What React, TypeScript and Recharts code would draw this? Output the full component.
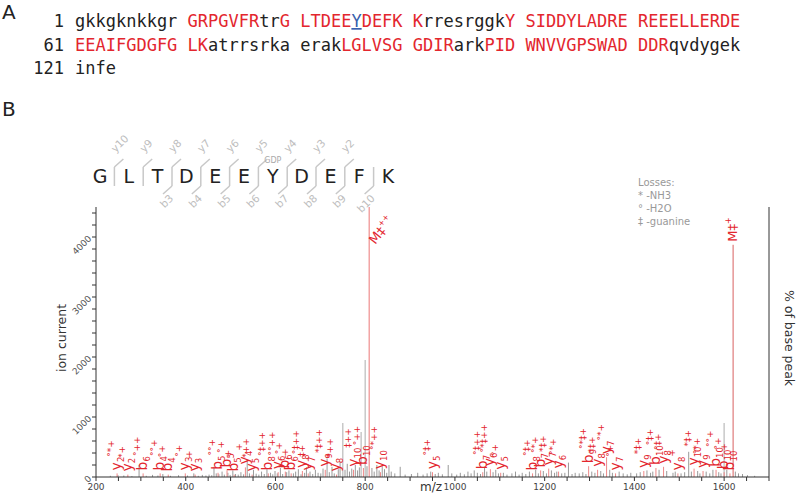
import React from "react";
import { ComposedChart, XAxis, YAxis, Scatter, ReferenceLine } from "recharts";

const FONT = "'DejaVu Sans', sans-serif";
const MONO = "'DejaVu Sans Mono', monospace";
const RED = "#e3262e";

// panel A: protein sequence, k = plain, r = covered, u = modified site
const seqStarts = ["1", "61", "121"];
const seqRow1 = [
  ["gkkgknkkgr ", "k"], ["GRPGVFR", "r"], ["tr", "k"], ["G LTDEE", "r"], ["Y", "u"],
  ["DEFK K", "r"], ["rresrggk", "k"], ["Y SIDDYLADRE REEELLERDE", "r"],
];
const seqRow2 = [
  ["EEAIFGDGFG LK", "r"], ["atrrsrka erak", "k"], ["LGLVSG GDIR", "r"], ["ark", "k"],
  ["PID WNVVGPSWAD DDR", "r"], ["qvdygek", "k"],
];
const seqRow3 = [["infe", "k"]];
const seqRows = [seqRow1, seqRow2, seqRow3];

// panel B: peptide
const residues = ["G", "L", "T", "D", "E", "E", "Y", "D", "E", "F", "K"];
const lossLegend = ["Losses:", "* -NH3", "° -H2O", "‡ -guanine"];

// unassigned peaks (m/z, ion current)
const peakMz = [
  232, 249, 262, 280, 296, 312, 326, 338, 349, 366, 384, 404, 418, 428, 437, 445, 452, 458,
  463, 468, 474, 481, 486, 494, 499, 505, 511, 517, 523, 529, 537, 542, 551, 557, 563, 569, 575, 581, 589, 594, 599,
  604, 611, 616, 625, 630, 640, 645, 651, 657, 665, 669, 677, 683, 689, 695,
  701, 706, 715, 720, 726, 731, 740, 744, 750, 755, 760, 765, 770, 778, 783, 787, 791, 800, 804, 815, 820, 826, 831, 838, 843, 848, 853, 858, 866,
  878, 889, 903, 917, 929, 938, 946, 956, 963, 972, 985, 993,
  1004, 1012, 1021, 1029, 1036, 1043, 1050, 1057, 1066, 1071, 1085, 1091, 1097, 1108, 1116, 1127, 1135, 1143, 1150, 1158, 1166, 1180, 1186, 1197,
  1204, 1215, 1222, 1227, 1238, 1245, 1253, 1261, 1268, 1277, 1285, 1292, 1305, 1312, 1325, 1331, 1345, 1351, 1366, 1375, 1384, 1392,
  1405, 1413, 1428, 1436, 1441, 1455, 1472, 1486, 1491, 1504, 1512, 1521, 1527, 1541, 1546, 1560, 1568, 1575, 1588, 1593, 1600, 1606, 1625, 1632, 1641, 1652, 1668,
];
const peakIntensity = [
  20, 30, 25, 15, 200, 20, 35, 25, 50, 20, 30, 25, 60, 20, 35, 25, 40, 30,
  170, 60, 45, 90, 40, 70, 35, 110, 50, 40, 80, 45, 280, 60, 120, 55, 40, 90, 50, 130, 70, 45, 100,
  60, 150, 50, 80, 110, 60, 90, 130, 45, 70, 160, 90, 50, 120, 70,
  60, 140, 310, 80, 170, 60, 130, 250, 900, 120, 220, 90, 140, 200, 110, 160, 750, 1950, 180, 150, 90, 200, 110, 180, 130, 70, 200, 90, 60,
  170, 40, 50, 70, 40, 60, 90, 50, 70, 45, 200, 60,
  40, 70, 45, 90, 60, 110, 70, 50, 150, 90, 80, 120, 60, 70, 40, 60, 90, 40, 70, 50, 90, 120, 60, 100,
  60, 110, 70, 90, 60, 70, 240, 50, 70, 60, 80, 50, 90, 70, 100, 60, 120, 70, 90, 60, 45, 70,
  60, 80, 110, 70, 90, 120, 100, 70, 90, 60, 80, 420, 90, 100, 60, 90, 60, 120, 80, 60, 900, 120, 90, 60, 50, 30, 20,
];

// assigned fragment ions
const ionMz = [
  247, 271, 305, 343, 361, 399, 421, 472, 492, 508, 533, 548, 584, 606, 622, 635, 660, 673, 711, 736,
  774, 796, 834, 950, 1062, 1079, 1102, 1173, 1191, 1209, 1231, 1298, 1318, 1338, 1358, 1421, 1448,
  1465, 1497, 1533, 1553, 1582, 1600, 1613,
];
const ionIntensity = [
  60, 40, 60, 60, 40, 60, 40, 70, 110, 40, 160, 40, 60, 80, 90, 60, 100, 60, 120, 40,
  120, 150, 80, 80, 80, 130, 70, 60, 110, 140, 90, 180, 120, 330, 60, 100, 150,
  170, 60, 140, 100, 120, 80, 60,
];
const ionType = [
  "y", "y", "b", "b", "b", "y", "y", "b", "b", "b", "y", "y", "b", "y", "b", "b", "y", "y", "y", "y",
  "y", "b", "y", "y", "b", "y", "y", "b", "b", "y", "y", "b", "y", "y", "y", "y", "b",
  "y", "y", "y", "y", "b", "b", "b",
];
const ionNumber = [
  "2", "2", "6", "4", "4", "3", "3", "5", "5", "5", "4", "5", "8", "6", "6", "6", "8", "7", "9", "8",
  "10", "10", "10", "5", "7", "6", "5", "8", "7", "7", "6", "9", "8", "7", "7", "9", "10",
  "8", "8", "10", "9", "10", "10", "10",
];
const ionLoss = [
  "°*+", "*+", "°++", "°°+", "°+", "°+", "+", "°°+", "°+", "+", "+", "*++", "°‡++", "°°++", "°+", "+", "°‡++", "‡+", "*‡++", "*++",
  "‡++", "°++", "°*++", "°‡+", "°‡++", "°*‡++", "°+", "°‡+", "°*+", "*‡+", "°*+", "°*‡+", "*‡+", "°*+", "°+", "*‡+", "°‡+",
  "°‡+", "+", "*‡+", "°*+", "°°+", "°+", "+",
];

// precursor (guanine loss)
const precursorMz = [809, 1620];
const precursorIntensity = [4500, 3870];
const precursorCharge = [2, 1];

const xTicks = [200, 250, 300, 350, 400, 450, 500, 550, 600, 650, 700, 750, 800, 850, 900, 950, 1000, 1050,
  1100, 1150, 1200, 1250, 1300, 1350, 1400, 1450, 1500, 1550, 1600, 1650, 1700];
const leftTicks = [0, 200, 400, 600, 800, 1000, 1200, 1400, 1600, 1800, 2000, 2200, 2400, 2600, 2800, 3000,
  3200, 3400, 3600, 3800, 4000, 4200, 4400];
const rightTicks = [0, 5, 10, 15, 20, 25, 30, 35, 40, 45, 50, 55, 60, 65, 70, 75, 80, 85, 90, 95, 100];

const ionData = ionMz.map((mz, i) => ({
  mz, intensity: ionIntensity[i], type: ionType[i], num: ionNumber[i], loss: ionLoss[i],
}));
const precursorData = precursorMz.map((mz, i) => ({
  mz, intensity: precursorIntensity[i], charge: precursorCharge[i],
}));

const XTick = (props: any) => {
  const { x, y, payload } = props;
  if (payload.value % 200 !== 0 || payload.value > 1600) return null;
  return (
    <text x={x} y={y} dy={7} textAnchor="middle" fontSize={9} fill="#444" fontFamily={FONT}>
      {payload.value}
    </text>
  );
};

const LeftTick = (props: any) => {
  const { x, y, payload } = props;
  if (payload.value % 1000 !== 0) return null;
  return (
    <text x={x} y={y} dy={3} transform={`rotate(-45 ${x} ${y})`} textAnchor="end" fontSize={9} fill="#555" fontFamily={FONT}>
      {payload.value}
    </text>
  );
};

const RightTick = (props: any) => {
  const { x, y, payload } = props;
  if (payload.value % 20 !== 0) return null;
  return (
    <text x={x} y={y} dy={3} transform={`rotate(45 ${x} ${y})`} textAnchor="start" fontSize={9} fill="#555" fontFamily={FONT}>
      {payload.value}
    </text>
  );
};

const IonLabel = (props: any) => {
  const { cx, cy, payload } = props;
  if (cx == null) return null;
  return (
    <text transform={`translate(${cx + 4},${cy - 3}) rotate(-90)`} fill={RED} fontFamily={FONT}>
      <tspan fontSize={14}>{payload.type}</tspan>
      <tspan fontSize={8.5} dy={3}>{payload.num}</tspan>
      <tspan fontSize={9} dy={-10}>{payload.loss}</tspan>
    </text>
  );
};

const PrecursorLabel = (props: any) => {
  const { cx, cy, payload } = props;
  if (cx == null) return null;
  const t = payload.charge === 2
    ? `translate(${cx + 6},${cy + 38}) rotate(-52)`
    : `translate(${cx + 4},${cy - 3}) rotate(-90)`;
  return (
    <text transform={t} fill={RED} fontFamily={FONT}>
      <tspan fontSize={13}>M‡</tspan>
      <tspan fontSize={8} dy={-6}>{"+".repeat(payload.charge)}</tspan>
    </text>
  );
};

const seqColor = (k: string) => (k === "r" ? RED : k === "u" ? "#3a5fae" : "#222");

function Overlay() {
  const rx = residues.map((_, i) => 100 + i * 28.8);
  return (
    <svg width={800} height={494} style={{ position: "absolute", left: 0, top: 0, pointerEvents: "none" }}>
      <text x={2} y={19} fontSize={20} fontFamily={FONT} fill="#222">A</text>
      {seqRows.map((row, r) => (
        <g key={r}>
          <text x={64} y={27 + r * 23.5} textAnchor="end" fontSize={17} fontFamily={MONO} fill="#222">
            {seqStarts[r]}
          </text>
          <text x={75} y={27 + r * 23.5} fontSize={17} fontFamily={MONO} style={{ whiteSpace: "pre" }}>
            {row.map(([s, k], j) => (
              <tspan key={j} fill={seqColor(k)} textDecoration={k === "u" ? "underline" : undefined}>
                {s}
              </tspan>
            ))}
          </text>
        </g>
      ))}
      <text x={2} y={116} fontSize={20} fontFamily={FONT} fill="#222">B</text>

      {residues.map((c, i) => (
        <text key={c + i} x={rx[i]} y={183} textAnchor="middle" fontSize={19} fontFamily={FONT} fill="#222">
          {c}
        </text>
      ))}
      {residues.slice(0, -1).map((_, i) => {
        const sx = (rx[i] + rx[i + 1]) / 2;
        const yNum = 10 - i;
        const bNum = i + 1;
        return (
          <g key={"sep" + i} stroke="#c8c8c8" strokeWidth={1.5} fill="none">
            <line x1={sx} y1={167} x2={sx} y2={186} />
            {yNum >= 2 && <line x1={sx} y1={167} x2={sx + 9} y2={159} />}
            {bNum >= 3 && <line x1={sx} y1={186} x2={sx - 9} y2={194} />}
            {yNum >= 2 && (
              <text x={sx + 1} y={153} transform={`rotate(-45 ${sx + 1} 153)`} fontSize={10.5} fontFamily={FONT} fill="#bdbdbd" stroke="none">
                {"y" + yNum}
              </text>
            )}
            {bNum >= 3 && (
              <text x={sx + 2} y={199} transform={`rotate(-45 ${sx + 2} 199)`} textAnchor="end" fontSize={10.5} fontFamily={FONT} fill="#bdbdbd" stroke="none">
                {"b" + bNum}
              </text>
            )}
          </g>
        );
      })}
      <text x={rx[6]} y={163} textAnchor="middle" fontSize={8} fontFamily={FONT} fill="#aaa">GDP</text>

      {lossLegend.map((s, i) => (
        <text key={s} x={638} y={186 + i * 13} fontSize={10} fontFamily={FONT} fill="#999">{s}</text>
      ))}

      <text x={0} y={0} transform="translate(66,338) rotate(-90)" textAnchor="middle" fontSize={12.5} fontFamily={FONT} fill="#333">
        ion current
      </text>
      <text x={0} y={0} transform="translate(785,338) rotate(90)" textAnchor="middle" fontSize={12.5} fontFamily={FONT} fill="#333">
        % of base peak
      </text>
      <text x={431} y={491} textAnchor="middle" fontSize={12} fontFamily={FONT} fill="#333">m/z</text>
    </svg>
  );
}

export default function App() {
  return (
    <div style={{ position: "absolute", left: 0, top: 0, width: 800, height: 494, background: "#fff", fontFamily: FONT }}>
      <ComposedChart width={800} height={494} margin={{ top: 207, right: 0, bottom: 0, left: 0 }}>
        <XAxis
          xAxisId="mz"
          type="number"
          dataKey="mz"
          domain={[200, 1700]}
          ticks={xTicks}
          interval={0}
          height={17}
          tickSize={4}
          tick={<XTick />}
          stroke="#333"
          allowDataOverflow
        />
        <YAxis
          yAxisId="ion"
          orientation="left"
          dataKey="intensity"
          width={96}
          domain={[0, 4500]}
          ticks={leftTicks}
          interval={0}
          tickSize={4}
          tick={<LeftTick />}
          stroke="#333"
          allowDataOverflow
        />
        <YAxis
          yAxisId="pct"
          orientation="right"
          width={31}
          domain={[0, 100]}
          ticks={rightTicks}
          interval={0}
          tickSize={4}
          tick={<RightTick />}
          stroke="#333"
        />
        {peakMz.map((mz, i) => (
          <ReferenceLine
            key={"p" + i}
            xAxisId="mz"
            yAxisId="ion"
            segment={[{ x: mz, y: 0 }, { x: mz, y: peakIntensity[i] }]}
            stroke={peakIntensity[i] > 600 ? "#c8c8c8" : "#9a9a9a"}
            strokeWidth={peakIntensity[i] > 600 ? 1.5 : 1}
            ifOverflow="visible"
          />
        ))}
        {ionMz.map((mz, i) => (
          <ReferenceLine
            key={"i" + i}
            xAxisId="mz"
            yAxisId="ion"
            segment={[{ x: mz, y: 0 }, { x: mz, y: ionIntensity[i] }]}
            stroke="#ee8888"
            strokeWidth={1}
            ifOverflow="visible"
          />
        ))}
        {precursorMz.map((mz, i) => (
          <ReferenceLine
            key={"m" + i}
            xAxisId="mz"
            yAxisId="ion"
            segment={[{ x: mz, y: 0 }, { x: mz, y: precursorIntensity[i] }]}
            stroke={i === 0 ? "#f2a4a4" : "#d86060"}
            strokeWidth={i === 0 ? 1.5 : 1}
            ifOverflow="visible"
          />
        ))}
        <Scatter xAxisId="mz" yAxisId="ion" data={ionData} dataKey="intensity" shape={<IonLabel />} isAnimationActive={false} />
        <Scatter xAxisId="mz" yAxisId="ion" data={precursorData} dataKey="intensity" shape={<PrecursorLabel />} isAnimationActive={false} />
      </ComposedChart>
      <Overlay />
    </div>
  );
}
